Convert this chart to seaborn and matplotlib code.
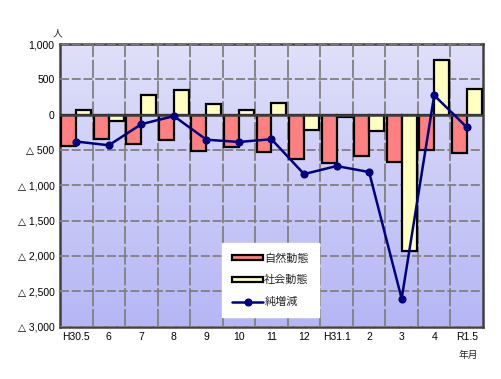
import numpy as np
import pandas as pd
import matplotlib
matplotlib.use("Agg")
import matplotlib.pyplot as plt
import seaborn as sns
from matplotlib.ticker import FixedLocator

months = ["H30.5", "6", "7", "8", "9", "10", "11", "12", "H31.1", "2", "3", "4", "R1.5"]
natural = [-445, -350, -415, -358, -519, -458, -524, -623, -690, -580, -666, -495, -538]
social = [68, -92, 282, 344, 149, 68, 164, -216, -31, -230, -1937, 775, 363]
net = [-381, -434, -135, -21, -355, -387, -348, -842, -728, -813, -2606, 273, -178]
series_names = ["自然動態", "社会動態", "純増減"]
yticks = [1000, 500, 0, -500, -1000, -1500, -2000, -2500, -3000]
ytick_labels = ["1,000", "500", "0", "△ 500", "△ 1,000", "△ 1,500", "△ 2,000", "△ 2,500", "△ 3,000"]

sns.set_theme(style="white")
plt.rcParams["font.family"] = ["Noto Sans CJK JP", "DejaVu Sans"]
tick_family = ["Liberation Sans", "DejaVu Sans"]

df = pd.DataFrame({
    "month": months * 2,
    "value": natural + social,
    "series": [series_names[0]] * len(months) + [series_names[1]] * len(months),
})

fig = plt.figure(figsize=(5.02, 3.79), dpi=100)
ax = fig.add_axes([60 / 502, 1 - 326.5 / 379, (483 - 60) / 502, (326.5 - 44) / 379])

# gradient background
grad = np.linspace(0, 1, 256).reshape(-1, 1)
top = np.array([224, 224, 250]) / 255
bot = np.array([182, 182, 245]) / 255
img = top[None, None, :] * (1 - grad[:, :, None]) + bot[None, None, :] * grad[:, :, None]
ax.imshow(img, extent=[-0.5, len(months) - 0.5, -3000, 1000], aspect="auto", zorder=0, origin="upper")

sns.barplot(data=df, x="month", y="value", hue="series", order=months,
            hue_order=series_names[:2], palette=["#FF8080", "#FFFFC0"],
            width=0.92, gap=0, edgecolor="black", linewidth=1.6, ax=ax, zorder=3,
            saturation=1, errorbar=None)

sns.pointplot(x=months, y=net, order=months, color="#000080", markers="o",
              markersize=4.5, linewidth=1.8, ax=ax, zorder=5, label=series_names[2])

ax.axhline(0, color="#404040", linewidth=1.8, zorder=4)

ax.set_xlim(-0.5, len(months) - 0.5)
ax.set_ylim(-3000, 1000)
ax.set_yticks(yticks)
ax.set_yticklabels(ytick_labels, fontsize=7.5, family=tick_family, color="black")
ax.set_xticks(range(len(months)))
ax.set_xticklabels(months, fontsize=7.5, family=tick_family, color="black")
ax.xaxis.set_minor_locator(FixedLocator(np.arange(0.5, len(months) - 1, 1)))
ax.set_xlabel("")
ax.set_ylabel("")
ax.tick_params(axis="both", which="both", length=0, pad=4)
ax.grid(False)
ax.set_axisbelow(False)
ax.grid(True, axis="y", which="major", color="#808080", linestyle=(0, (5, 1.5)), linewidth=1.3)
ax.grid(True, axis="x", which="minor", color="#808080", linestyle=(0, (10, 1.5)), linewidth=1.3)
for s in ax.spines.values():
    s.set_color("#404040")
    s.set_linewidth(1.8)

leg = ax.legend(loc="upper left", bbox_to_anchor=((222 - 60) / 423, 1 - (243 - 44) / 282.5),
                frameon=True, fancybox=False, edgecolor="white", facecolor="white",
                fontsize=8, handlelength=2.8, handleheight=0.35, labelspacing=1.05,
                borderpad=0.9, handletextpad=0.1, borderaxespad=0, framealpha=1)
leg.set_zorder(10)

fig.text(58 / 502, 1 - 33 / 379, "人", fontsize=7, ha="center", va="center")
fig.text(468 / 502, 1 - 355 / 379, "年月", fontsize=7, ha="center", va="center")

fig.savefig("out.png", dpi=100, facecolor="white")
